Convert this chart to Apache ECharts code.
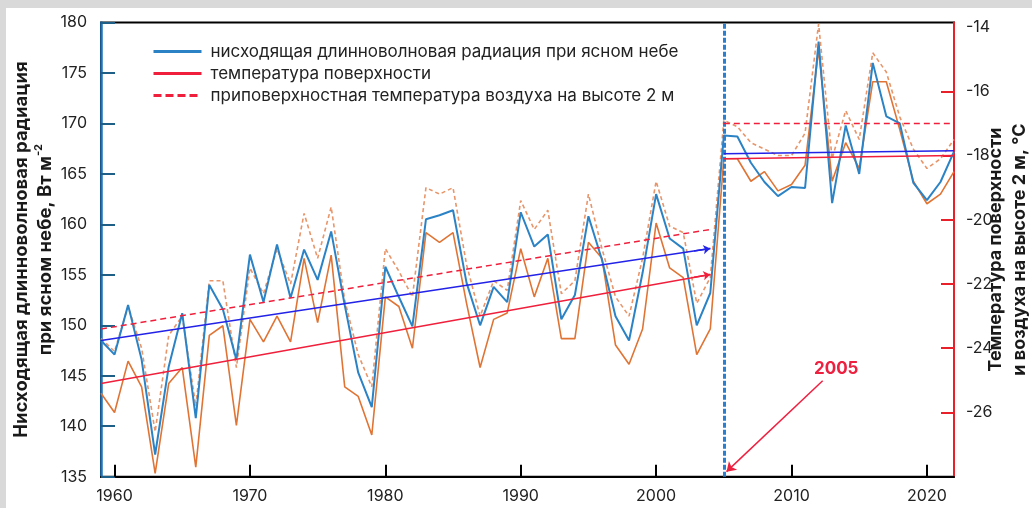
<!DOCTYPE html>
<html><head><meta charset="utf-8">
<script src="https://cdn.jsdelivr.net/npm/echarts@6/dist/echarts.min.js"></script>
<style>
html,body{margin:0;padding:0;background:#d9d9d9;width:1032px;height:508px;overflow:hidden}
#c{position:absolute;left:6px;top:8px;width:1026px;height:500px;background:#fff}
</style></head><body><div id="c"></div>
<script>
const years = [1959,1960,1961,1962,1963,1964,1965,1966,1967,1968,1969,1970,1971,1972,1973,1974,1975,1976,1977,1978,1979,1980,1981,1982,1983,1984,1985,1986,1987,1988,1989,1990,1991,1992,1993,1994,1995,1996,1997,1998,1999,2000,2001,2002,2003,2004,2005,2006,2007,2008,2009,2010,2011,2012,2013,2014,2015,2016,2017,2018,2019,2020,2021,2022];
// downward clear-sky longwave radiation, W m-2 (left axis)
const radiation = [148.5,147.1,152.0,146.6,137.2,145.9,151.2,140.8,154.0,151.6,146.6,157.0,152.3,158.0,152.7,157.5,154.5,159.3,152.0,145.3,141.9,155.8,152.8,149.9,160.5,160.9,161.4,154.2,150.0,153.8,152.3,161.2,157.8,159.0,150.6,153.0,160.8,156.5,150.9,148.5,155.2,163.0,158.6,157.6,150.0,153.2,168.8,168.7,166.1,164.2,162.8,163.7,163.6,178.1,162.1,169.8,165.0,176.0,170.7,170.0,164.1,162.4,164.2,167.2];
// surface temperature, °C (right axis)
const surfaceTemp = [-25.4,-26.0,-24.4,-25.2,-27.9,-25.1,-24.6,-27.7,-23.6,-23.3,-26.4,-23.1,-23.8,-23.0,-23.8,-21.2,-23.2,-21.1,-25.2,-25.5,-26.7,-22.4,-22.7,-24.0,-20.4,-20.7,-20.4,-22.6,-24.6,-23.1,-22.9,-20.9,-22.4,-21.2,-23.7,-23.7,-20.7,-21.2,-23.9,-24.5,-23.4,-20.1,-21.5,-21.8,-24.2,-23.4,-18.1,-18.1,-18.8,-18.5,-19.1,-18.9,-18.3,-14.7,-18.8,-17.6,-18.4,-15.7,-15.7,-17.2,-18.8,-19.5,-19.2,-18.5];
// 2 m air temperature, °C (right axis)
const airTemp = [-23.7,-24.1,-22.7,-24.0,-26.6,-23.6,-23.0,-25.8,-21.9,-21.9,-24.6,-21.5,-22.3,-20.9,-22.0,-19.8,-21.2,-19.6,-22.5,-24.2,-25.2,-20.9,-21.6,-22.4,-19.0,-19.2,-19.0,-21.4,-23.0,-21.9,-22.2,-19.4,-20.3,-19.7,-22.3,-21.9,-19.2,-20.9,-22.4,-23.0,-21.2,-18.8,-20.2,-20.4,-22.6,-21.8,-16.9,-17.1,-17.6,-17.8,-18.0,-18.0,-17.3,-13.9,-18.1,-16.6,-17.5,-14.8,-15.4,-16.8,-17.8,-18.4,-18.1,-17.5];
// linear trends: [startYear, startValue, endYear, endValue]
const radTrendA = [1959, 148.5, 2004, 157.6];
const radTrendB = [2005, 167.0, 2022, 167.3];
const tsTrendA = [1959, -25.1, 2004, -21.7];
const tsTrendB = [2005, -18.1, 2022, -18.0];
const taTrendA = [1959, -23.4, 2004, -20.3];
const taTrendB = [2005, -17.0, 2022, -17.0];
const breakYear = 2005;
const xTicks = [1960,1970,1980,1990,2000,2010,2020];
const leftTicks = [135,140,145,150,155,160,165,170,175,180];
const rightLabels = [-26,-24,-22,-20,-18,-16,-14];
const rightTicks = [-26,-24,-22,-20,-18,-16];
const annot = {text:'2005', from:[2012.3,144.5], to:[2005.2,135.5], label:[2013.3,145.7]};

const nRad = 'нисходящая длинноволновая радиация при ясном небе';
const nTs = 'температура поверхности';
const nTa = 'приповерхностная температура воздуха на высоте 2 м';

const FONT = 'Inter, Roboto, "Noto Sans", sans-serif';
const pairs = arr => years.map((y,i)=>[y, arr[i]]);
const seg = (a,b) => [[a[0],a[1]],[a[2],a[3]],[(a[2]+b[0])/2,null],[b[0],b[1]],[b[2],b[3]]];
const tail = a => { const x0 = a[2]-1.2; const v0 = a[1]+(a[3]-a[1])*(x0-a[0])/(a[2]-a[0]); return [[{coord:[x0,v0]},{coord:[a[2],a[3]]}]]; };

const chart = echarts.init(document.getElementById('c'), null, {renderer:'canvas'});
chart.setOption({
  animation:false,
  textStyle:{fontFamily:FONT},
  grid:{left:95,right:78,top:14.5,bottom:31.3,show:true,borderColor:'#000',borderWidth:2,backgroundColor:'transparent',
        outerBoundsMode:'none',containLabel:false},
  legend:{
    orient:'vertical',left:141,top:30,itemWidth:48,itemHeight:14,itemGap:5,selectedMode:false,
    textStyle:{fontSize:17,lineHeight:14,color:'#222',fontFamily:FONT,padding:[0,0,0,4]},
    itemStyle:{opacity:0},
    lineStyle:{width:3},
    data:[{name:nRad},{name:nTs},{name:nTa,lineStyle:{type:[8,4],width:3}}]
  },
  xAxis:{type:'value',min:1959,max:2022,
    axisLine:{lineStyle:{color:'#000',width:2}},
    axisTick:{inside:true,length:12,lineStyle:{color:'#000',width:2},customValues:xTicks},
    axisLabel:{customValues:xTicks,fontSize:16,color:'#222',margin:11,fontFamily:FONT,formatter:v=>String(v)},
    splitLine:{show:false}},
  yAxis:[
    {type:'value',min:135,max:180,interval:5,position:'left',
     name:'Нисходящая длинноволновая радиация\nпри ясном небе, Вт м{sup|-2}',
     nameLocation:'middle',nameRotate:90,nameGap:44,nameMoveOverlap:false,
     nameTextStyle:{fontSize:18.5,fontWeight:'bold',color:'#1a1a1a',lineHeight:24,fontFamily:FONT,
       rich:{sup:{fontSize:11,fontWeight:'bold',verticalAlign:'top',color:'#1a1a1a',fontFamily:FONT}}},
     axisLine:{show:true,lineStyle:{color:'#1f73b8',width:2.5}},
     axisTick:{show:true,inside:true,length:14,lineStyle:{color:'#1d5f86',width:2},customValues:leftTicks},
     axisLabel:{fontSize:16,color:'#222',margin:14,fontFamily:FONT,formatter:v=>String(v)},
     splitLine:{show:false}},
    {type:'value',min:-28,max:-13.856,position:'right',
     name:'Температура поверхности\nи воздуха на высоте 2 м, °C',
     nameLocation:'middle',nameRotate:90,nameGap:30,nameMoveOverlap:false,
     nameTextStyle:{fontSize:18,fontWeight:'bold',color:'#1a1a1a',lineHeight:24,fontFamily:FONT,backgroundColor:'#fff'},
     axisLine:{show:true,lineStyle:{color:'#e8202a',width:2}},
     axisTick:{show:true,inside:true,length:13,lineStyle:{color:'#e8202a',width:2},customValues:rightTicks},
     axisLabel:{customValues:rightLabels,fontSize:16,color:'#222',margin:12,fontFamily:FONT,formatter:v=>String(v)},
     splitLine:{show:false}}
  ],
  series:[
    {name:'airTempData',type:'line',yAxisIndex:1,data:pairs(airTemp),symbol:'none',z:2,
     lineStyle:{color:'#e8956a',width:1.6,type:[4,3]}},
    {name:'surfaceTempData',type:'line',yAxisIndex:1,data:pairs(surfaceTemp),symbol:'none',z:3,
     lineStyle:{color:'#e07434',width:1.6}},
    {name:nRad,type:'line',yAxisIndex:0,data:pairs(radiation),symbol:'none',z:4,
     itemStyle:{color:'#2b83c6'},lineStyle:{color:'#2b83c6',width:2},
     markLine:{silent:true,symbol:['none','none'],label:{show:false},
       lineStyle:{color:'#2a7fd0',width:3,type:[5,2]},data:[{xAxis:breakYear}]}},
    {name:nTa,type:'line',yAxisIndex:1,data:seg(taTrendA,taTrendB),symbol:'none',z:5,connectNulls:false,
     itemStyle:{color:'#f0203c'},lineStyle:{color:'#f0203c',width:1.5,type:[6,4]}},
    {name:nTs,type:'line',yAxisIndex:1,data:seg(tsTrendA,tsTrendB),symbol:'none',z:5,connectNulls:false,
     itemStyle:{color:'#f0203c'},lineStyle:{color:'#f0203c',width:1.5},
     markLine:{silent:true,symbol:['none','arrow'],symbolSize:7,label:{show:false},
       lineStyle:{color:'#f0203c',width:1.5,type:'solid'},data:tail(tsTrendA)}},
    {name:'radTrend',type:'line',yAxisIndex:0,data:seg(radTrendA,radTrendB),symbol:'none',z:5,connectNulls:false,
     itemStyle:{color:'#2323e8'},lineStyle:{color:'#2323e8',width:1.5},
     markLine:{silent:true,symbol:['none','arrow'],symbolSize:7,label:{show:false},
       lineStyle:{color:'#2323e8',width:1.5,type:'solid'},data:tail(radTrendA)}},
    {name:'annotation',type:'line',yAxisIndex:0,data:[],symbol:'none',z:6,
     markLine:{silent:true,symbol:['none','arrow'],symbolSize:9,label:{show:false},
       lineStyle:{color:'#ee2040',width:1.5,type:'solid'},
       data:[[{coord:annot.from},{coord:annot.to}]]},
     markPoint:{silent:true,symbol:'rect',symbolSize:1,itemStyle:{color:'rgba(0,0,0,0)'},
       label:{show:true,position:'inside',formatter:annot.text,color:'#ee2040',fontSize:17,fontWeight:'bold',fontFamily:FONT},
       data:[{coord:annot.label}]}}
  ]
});
</script></body></html>
